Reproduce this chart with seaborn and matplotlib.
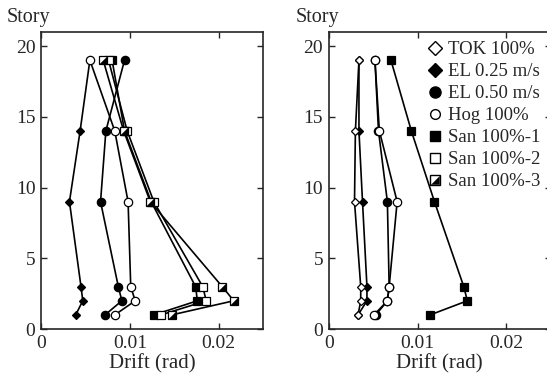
import matplotlib
matplotlib.use("Agg")
import matplotlib.pyplot as plt
from matplotlib.lines import Line2D
from matplotlib.legend_handler import HandlerTuple
import seaborn as sns

# story levels (shared by every series)
stories = [1, 2, 3, 9, 14, 19]

# left panel drifts (rad)
el025_left = [0.0039, 0.0047, 0.0045, 0.0032, 0.0044, 0.0055]
el050_left = [0.0072, 0.0091, 0.0087, 0.0067, 0.0073, 0.0094]
hog_left = [0.0083, 0.0106, 0.0101, 0.0098, 0.0083, 0.0055]
san1_left = [0.0127, 0.0176, 0.0174, 0.0124, 0.0094, 0.0080]
san2_left = [0.0135, 0.0186, 0.0182, 0.0127, 0.0097, 0.0076]
san3_left = [0.0147, 0.0217, 0.0204, 0.0123, 0.0093, 0.0070]

# right panel drifts (rad)
tok_right = [0.0033, 0.0036, 0.0036, 0.0029, 0.0030, 0.0034]
el025_right = [0.0033, 0.0043, 0.0043, 0.0038, 0.0034, 0.0034]
el050_right = [0.0053, 0.0066, 0.0068, 0.0066, 0.0056, 0.0052]
hog_right = [0.0051, 0.0066, 0.0068, 0.0077, 0.0057, 0.0052]
san1_right = [0.0114, 0.0156, 0.0152, 0.0119, 0.0093, 0.0070]

labels = ["TOK 100%", "EL 0.25 m/s", "EL 0.50 m/s", "Hog 100%",
          "San 100%-1", "San 100%-2", "San 100%-3"]

sns.set_style("ticks")
plt.rcParams["font.family"] = ["Liberation Serif", "DejaVu Serif"]

# triangle filling the lower-right half of a square marker
half_tri = [(-1, -1), (1, -1), (1, 1), (-1, -1)]

style = {
    "tok": dict(marker="D", ms=4, mfc="white", mec="black", mew=0.9),
    "el025": dict(marker="D", ms=4, mfc="black", mec="black", mew=0.9),
    "el050": dict(marker="o", ms=6, mfc="black", mec="black", mew=0.9),
    "hog": dict(marker="o", ms=6, mfc="white", mec="black", mew=0.9),
    "san1": dict(marker="s", ms=6, mfc="black", mec="black", mew=0.9),
    "san2": dict(marker="s", ms=6, mfc="white", mec="black", mew=0.9),
    "san3": dict(marker="s", ms=6, mfc="white", mec="black", mew=0.9),
}


def draw(ax, x, key):
    sns.lineplot(x=x, y=stories, ax=ax, sort=False, estimator=None,
                 color="black", lw=1.2, **style[key])
    if key == "san3":
        ax.plot(x, stories, ls="none", marker=half_tri, ms=5.4,
                mfc="black", mec="black", mew=0.2, color="black")


fig = plt.figure(figsize=(5.47, 3.84), dpi=100)
ax1 = fig.add_axes([0.075, 0.143, 0.406, 0.774])
ax2 = fig.add_axes([0.601, 0.143, 0.406, 0.774])

draw(ax1, san1_left, "san1")
draw(ax1, san2_left, "san2")
draw(ax1, san3_left, "san3")
draw(ax1, el025_left, "el025")
draw(ax1, el050_left, "el050")
draw(ax1, hog_left, "hog")

draw(ax2, san1_right, "san1")
draw(ax2, el025_right, "el025")
draw(ax2, tok_right, "tok")
draw(ax2, el050_right, "el050")
draw(ax2, hog_right, "hog")

for ax in (ax1, ax2):
    ax.set_xlim(0, 0.025)
    ax.set_ylim(0, 21)
    ax.set_xticks([0, 0.01, 0.02])
    ax.set_xticklabels(["0", "0.01", "0.02"])
    ax.set_yticks([0, 5, 10, 15, 20])
    ax.tick_params(direction="in", top=True, right=True, length=4,
                   width=1, labelsize=14, pad=4)
    ax.set_xlabel("Drift (rad)", fontsize=15, labelpad=2)
    ax.set_ylabel("")
    for sp in ax.spines.values():
        sp.set_visible(True)
        sp.set_linewidth(1.2)

fig.text(0.012, 0.955, "Story", fontsize=14.5, va="center", ha="left")
fig.text(0.541, 0.955, "Story", fontsize=14.5, va="center", ha="left")

# legend symbols drawn larger than the plot markers
def lh(marker, fc, ms, mew=1.0):
    return Line2D([], [], ls="none", marker=marker, ms=ms, mfc=fc,
                  mec="black", mew=mew)

handles = [
    lh("D", "white", 7.5),
    lh("D", "black", 7.5),
    lh("o", "black", 8),
    lh("o", "white", 7),
    lh("s", "black", 6.5),
    lh("s", "white", 6.5),
    (lh("s", "white", 6.5), lh(half_tri, "black", 6.0, 0.2)),
]
ax2.legend(handles, labels, loc="upper left",
           bbox_to_anchor=(0.782, 0.893), bbox_transform=fig.transFigure,
           frameon=False, fontsize=13.5, handlelength=0.8, handletextpad=0.3,
           labelspacing=0.26, borderpad=0, borderaxespad=0,
           handler_map={tuple: HandlerTuple(ndivide=1)})

fig.savefig("out.png", dpi=100)
